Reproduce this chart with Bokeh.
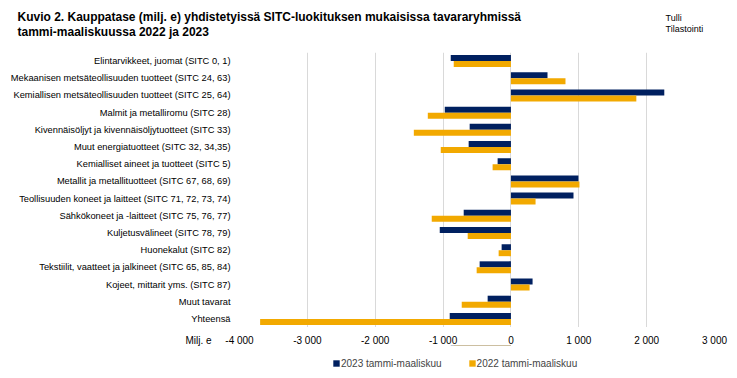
from bokeh.plotting import figure
from bokeh.layouts import column
from bokeh.models import ColumnDataSource, FactorRange, Range1d, FixedTicker, Legend, LegendItem, Grid
from bokeh.transform import dodge
from bokeh.embed import file_html
from bokeh.resources import INLINE
from bokeh.core.properties import value

categories = [
    "Elintarvikkeet, juomat (SITC 0, 1)",
    "Mekaanisen metsäteollisuuden tuotteet (SITC 24, 63)",
    "Kemiallisen metsäteollisuuden tuotteet (SITC 25, 64)",
    "Malmit ja metalliromu (SITC 28)",
    "Kivennäisöljyt ja kivennäisöljytuotteet (SITC 33)",
    "Muut energiatuotteet (SITC 32, 34,35)",
    "Kemialliset aineet ja tuotteet (SITC 5)",
    "Metallit ja metallituotteet (SITC 67, 68, 69)",
    "Teollisuuden koneet ja laitteet (SITC 71, 72, 73, 74)",
    "Sähkökoneet ja -laitteet (SITC 75, 76, 77)",
    "Kuljetusvälineet (SITC 78, 79)",
    "Huonekalut (SITC 82)",
    "Tekstiilit, vaatteet ja jalkineet (SITC 65, 85, 84)",
    "Kojeet, mittarit yms. (SITC 87)",
    "Muut tavarat",
    "Yhteensä",
]
values_2023 = [-887, 539, 2260, -975, -608, -623, -196, 995, 922, -696, -1049, -137, -461, 319, -343, -902]
values_2022 = [-843, 804, 1848, -1225, -1431, -1034, -270, 1010, 363, -1167, -637, -181, -505, 275, -725, -3696]
series_labels = ["2023 tammi-maaliskuu", "2022 tammi-maaliskuu"]
x_ticks = [-4000, -3000, -2000, -1000, 0, 1000, 2000, 3000]
x_tick_labels = ["-4 000", "-3 000", "-2 000", "-1 000", "0", "1 000", "2 000", "3 000"]
title_lines = ["Kuvio 2. Kauppatase (milj. e) yhdistetyissä SITC-luokituksen mukaisissa tavararyhmissä",
               "tammi-maaliskuussa 2022 ja 2023"]
source_lines = ["Tulli", "Tilastointi"]
unit_label = "Milj. e"

NAVY = "#002060"
ORANGE = "#F2A900"
FONT = "Liberation Sans"
W = 737
FRAME_L, FRAME_R = 239, 23          # pixel borders of the bar frame
HEAD_H, MAIN_H, FOOT_H = 52, 275, 51
X_MIN, X_MAX = -4000, 3000

# ---------------- header ----------------
head = figure(width=W, height=HEAD_H, x_range=Range1d(0, W), y_range=Range1d(HEAD_H, 0),
              output_backend="svg", toolbar_location=None,
              x_axis_location=None, y_axis_location=None,
              min_border_left=0, min_border_right=0, min_border_top=0, min_border_bottom=0)
head.frame_align = False
head.outline_line_color = None
head.grid.grid_line_color = None
head.text(x=[17, 17], y=[16.5, 31], text=title_lines, text_font=value(FONT),
          text_font_style="bold", text_font_size="12px", text_baseline="middle",
          text_color="#000000")
head.text(x=[665, 665], y=[17, 28], text=source_lines, text_font=value(FONT),
          text_font_size="9px", text_baseline="middle", text_color="#000000")

# ---------------- main bars ----------------
source = ColumnDataSource(dict(cat=categories, v2023=values_2023, v2022=values_2022))

p = figure(width=W, height=MAIN_H,
           y_range=FactorRange(factors=list(reversed(categories)), range_padding=0),
           x_range=Range1d(X_MIN, X_MAX),
           output_backend="svg", toolbar_location=None, x_axis_location=None,
           min_border_left=FRAME_L, min_border_right=FRAME_R, min_border_top=0, min_border_bottom=0)
p.frame_align = False
p.outline_line_color = None
p.grid.grid_line_color = None
p.add_layout(Grid(dimension=0, ticker=FixedTicker(ticks=x_ticks), grid_line_color="#D9D9D9",
                  grid_line_width=1), "center")

p.hbar(y=dodge("cat", 0.175, range=p.y_range), left=0, right="v2023", height=0.35,
       fill_color=NAVY, line_color=None, source=source)
p.hbar(y=dodge("cat", -0.175, range=p.y_range), left=0, right="v2022", height=0.35,
       fill_color=ORANGE, line_color=None, source=source)

p.yaxis.axis_line_color = None
p.yaxis.major_tick_line_color = None
p.yaxis.major_tick_out = 0
p.yaxis.major_label_standoff = 9
p.yaxis.major_label_text_font = FONT
p.yaxis.major_label_text_font_size = "9.3px"
p.yaxis.major_label_text_color = "#000000"

# ---------------- footer: x axis, unit, legend ----------------
px_per_unit = (W - FRAME_L - FRAME_R) / (X_MAX - X_MIN)
foot_lo = X_MIN - FRAME_L / px_per_unit
foot_hi = X_MAX + FRAME_R / px_per_unit
unit_pos = X_MIN - 41 / px_per_unit

foot = figure(width=W, height=FOOT_H, x_range=Range1d(foot_lo, foot_hi), y_range=Range1d(0, 1),
              output_backend="svg", toolbar_location=None,
              x_axis_location="above", y_axis_location=None,
              min_border_left=0, min_border_right=0, min_border_top=18, min_border_bottom=0)
foot.frame_align = False
foot.outline_line_color = None
foot.grid.grid_line_color = None
foot.xaxis.ticker = FixedTicker(ticks=x_ticks + [unit_pos])
overrides = {t: l for t, l in zip(x_ticks, x_tick_labels)}
overrides[unit_pos] = unit_label
foot.xaxis.major_label_overrides = overrides
foot.xaxis.axis_line_color = None
foot.xaxis.major_tick_line_color = None
foot.xaxis.minor_tick_line_color = None
foot.xaxis.major_tick_out = 0
foot.xaxis.major_tick_in = 0
foot.xaxis.major_label_standoff = 0
foot.xaxis.major_label_text_font = FONT
foot.xaxis.major_label_text_font_size = "10px"
foot.xaxis.major_label_text_color = "#000000"

# legend proxies: one row each, placed outside the footer's visible y range
legend_src = ColumnDataSource(dict(y=[5], v23=[values_2023[0]], v22=[values_2022[0]]))
lr1 = foot.hbar(y="y", right="v23", height=0.5, fill_color=NAVY, line_color=None, source=legend_src)
lr2 = foot.hbar(y="y", right="v22", height=0.5, fill_color=ORANGE, line_color=None, source=legend_src)
legend = Legend(items=[LegendItem(label=series_labels[0], renderers=[lr1]),
                       LegendItem(label=series_labels[1], renderers=[lr2])],
                orientation="horizontal", location=(332, 9),
                glyph_width=8, glyph_height=8, label_standoff=1, spacing=26,
                label_text_font=FONT, label_text_font_size="10px", label_height=12,
                padding=0, margin=0, border_line_color=None, background_fill_alpha=0)
foot.add_layout(legend, "center")

layout = column(head, p, foot, spacing=0)
open("out.html", "w").write(file_html(layout, INLINE))
